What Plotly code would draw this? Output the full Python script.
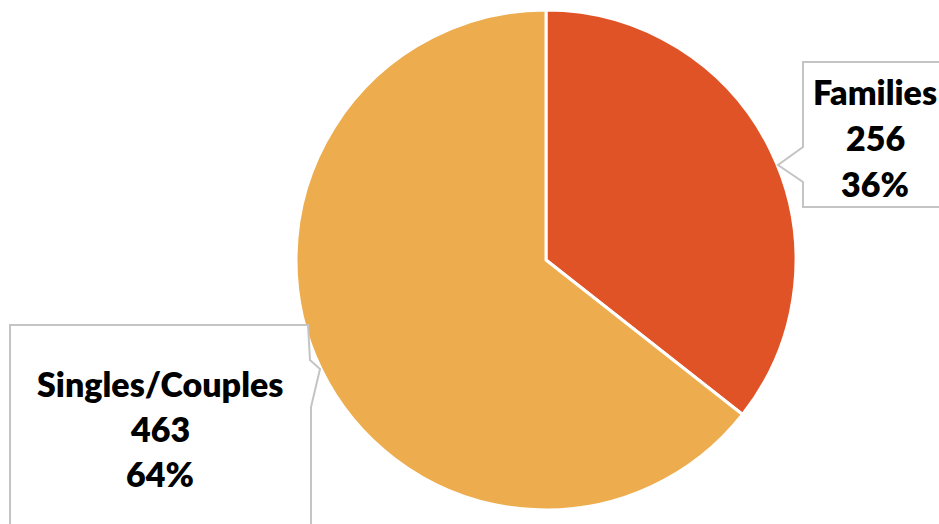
import plotly.graph_objects as go

# Household types and counts
categories = ["Families", "Singles/Couples"]
counts = [256, 463]
colors = ["#E05327", "#EDAD4E"]

W, H = 939, 524
total = sum(counts)
pcts = [round(100 * c / total) for c in counts]


def px(x):
    return x / W


def py(y):
    return 1 - y / H


fig = go.Figure()
fig.add_trace(go.Pie(
    labels=categories,
    values=counts,
    sort=False,
    direction="clockwise",
    rotation=0,
    marker=dict(colors=colors, line=dict(color="white", width=3)),
    textinfo="none",
    hoverinfo="label+value+percent",
    domain=dict(x=[px(296), px(796)], y=[py(510), py(10)]),
    showlegend=False,
))


def callout_path(points):
    return "M " + " L ".join(f"{px(x):.5f},{py(y):.5f}" for x, y in points) + " Z"


# Callout outlines (box with pointer towards its slice)
callouts = [
    [(803, 62), (950, 62), (950, 207), (803, 207), (803, 182), (778, 165), (803, 147)],
    [(10, 325), (308, 325), (310, 360), (320, 369), (311, 407), (311, 540), (10, 540)],
]
for pts in callouts:
    fig.add_shape(type="path", xref="paper", yref="paper", path=callout_path(pts),
                  line=dict(color="#C4C4C4", width=2), fillcolor="white", layer="above")

# Label text lines: category, count, percent
label_pos = [(875, [92, 137, 183]), (160, [383, 428, 473])]
font = dict(family="Lato, Carlito, sans-serif", size=34, color="black", weight=800)
for i, (cx, ys) in enumerate(label_pos):
    lines = [categories[i], f"{counts[i]}", f"{pcts[i]}%"]
    for text, y in zip(lines, ys):
        fig.add_annotation(x=px(cx), y=py(y), xref="paper", yref="paper", text=text,
                           showarrow=False, font=font, xanchor="center", yanchor="middle")

fig.update_layout(
    width=W, height=H,
    margin=dict(l=0, r=0, t=0, b=0),
    paper_bgcolor="white", plot_bgcolor="white",
)

fig.write_html("out.html")
